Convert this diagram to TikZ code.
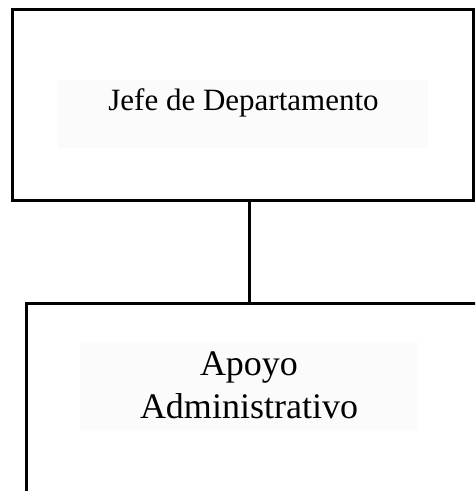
\documentclass[tikz,border=0pt]{standalone}
\usepackage{fontspec}
\setmainfont{Liberation Serif}
\begin{document}
\begin{tikzpicture}[x=1pt,y=-1pt,
  box/.style={draw=black,line width=3pt,rectangle,inner sep=0pt},
  txtbg/.style={fill=black!1.5,draw=none},
  lbl/.style={inner sep=0pt,text=black,align=center}]
\useasboundingbox (0,0) rectangle (475,491);
\clip (0,0) rectangle (475,491);
\fill[white] (0,0) rectangle (475,491);
% top box
\node[box,minimum width=461pt,minimum height=190.5pt] (top) at (243,104.75) {};
\fill[txtbg] (58,80) rectangle (428,148);
\node[lbl,font=\fontsize{31}{37}\selectfont,anchor=base] (toplbl) at (243.5,110) {Jefe de Departamento};
% bottom box (extends beyond the picture)
\node[box,minimum width=500pt,minimum height=300pt,anchor=north west] (bot) at (24.5,301.5) {};
\fill[txtbg] (80,342) rectangle (418,430);
\node[lbl,font=\fontsize{36}{43}\selectfont] (botlbl) at (249,385) {Apoyo\\Administrativo};
% connector
\coordinate (cx) at (249,0);
\draw[line width=3pt] (top.south -| cx) -- (bot.north -| cx);
\end{tikzpicture}
\end{document}
